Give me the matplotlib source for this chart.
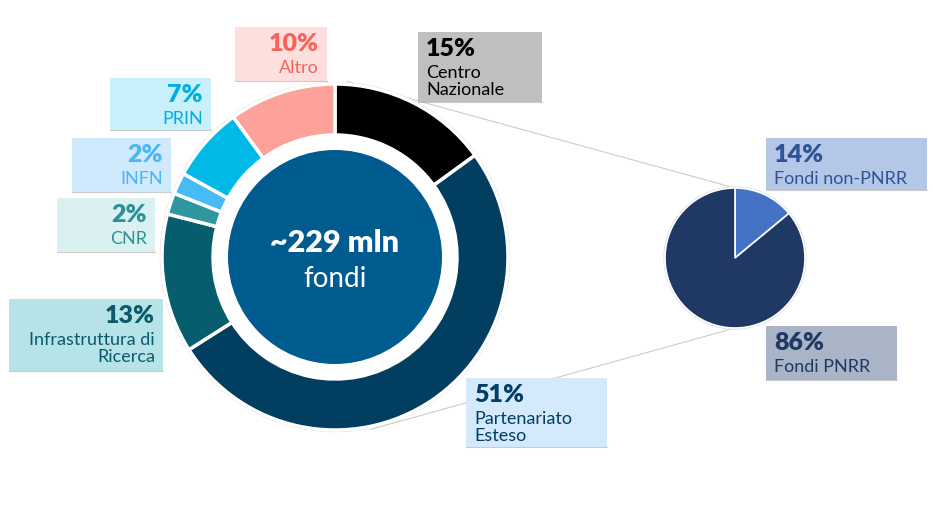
import matplotlib

matplotlib.use("Agg")

import numpy as np
import matplotlib.pyplot as plt
from matplotlib.patches import Circle, Rectangle

plt.rcParams["font.family"] = ["Lato", "DejaVu Sans"]

# donut: share of funds by instrument (clockwise from 12 o'clock)
categories = ["Centro\nNazionale", "Partenariato\nEsteso", "Infrastruttura di\nRicerca",
              "CNR", "INFN", "PRIN", "Altro"]
shares = [15, 51, 13, 2, 2, 7, 10]
ring_colors = ["#000000", "#023e5f", "#055d6e", "#2e97a0", "#48bbf7", "#00b9e6", "#fca29b"]
text_colors = ["#000000", "#003e63", "#0b5a6b", "#2a9198", "#4bb6f3", "#00aee0", "#f7625c"]
box_colors = ["#bfbfbf", "#d4eafc", "#b5e3e8", "#dbf1f1", "#cfe9fd", "#c8f0fb", "#fddfde"]

# small pie: PNRR split
pnrr_labels = ["Fondi non-PNRR", "Fondi PNRR"]
pnrr_shares = [14, 86]
pnrr_colors = ["#4472c4", "#203864"]
pnrr_text = ["#2f5496", "#1f3864"]
pnrr_box = ["#b4c7e7", "#a9b4c6"]

center_value = "~229 mln"
center_label = "fondi"

W, H = 933, 511


def Y(y):
    return H - y


# label boxes in pixel coords: x0, y0, x1, y1, align
donut_boxes = [
    (418, 32, 542, 102, "left"),
    (466, 378, 607, 447, "left"),
    (9, 299, 163, 371, "right"),
    (57, 198, 155, 252, "right"),
    (72, 138, 171, 192, "right"),
    (110, 78, 211, 130, "right"),
    (235, 27, 327, 81, "right"),
]
pnrr_boxes = [
    (766, 138, 927, 190, "left"),
    (766, 326, 897, 380, "left"),
]

cx, cy, R_out, R_in, R_core = 335, 257, 173, 122, 107
px, py, R_pie = 735, 258, 70


def on_ring(angle_deg, r):
    # angle clockwise from 12 o'clock, pixel coords
    a = np.radians(angle_deg)
    return cx + r * np.sin(a), cy - r * np.cos(a)


fig = plt.figure(figsize=(W / 100, H / 100), dpi=100, facecolor="white")
ax = fig.add_axes([0, 0, 1, 1])

# connector lines donut -> pie
x_top, y_top = on_ring(4, R_out + 3)
x_bot, y_bot = on_ring(168, R_out + 3)
ax.plot([x_top, px], [Y(y_top), Y(py - R_pie)], color="#cccccc", lw=0.8, zorder=0)
ax.plot([x_bot, px], [Y(y_bot), Y(py + R_pie)], color="#cccccc", lw=0.8, zorder=0)

ax.add_patch(Circle((cx, Y(cy)), R_out + 1.5, facecolor="none", edgecolor="#e2e2e2", lw=1.0, zorder=1))
ax.pie(
    shares,
    colors=ring_colors,
    startangle=90,
    counterclock=False,
    radius=R_out,
    center=(cx, Y(cy)),
    wedgeprops=dict(width=R_out - R_in, edgecolor="white", linewidth=2.5),
)
ax.add_patch(Circle((cx, Y(cy)), R_core, facecolor="#005b8e", edgecolor="none", zorder=3))
ax.text(cx, Y(252), center_value, color="white", fontsize=22, fontweight="heavy",
        ha="center", va="baseline", zorder=4)
ax.text(cx, Y(287), center_label, color="white", fontsize=20,
        ha="center", va="baseline", zorder=4)

ax.add_patch(Circle((px, Y(py)), R_pie + 1, facecolor="none", edgecolor="#e2e2e2", lw=1.0, zorder=1))
ax.pie(
    pnrr_shares,
    colors=pnrr_colors,
    startangle=90,
    counterclock=False,
    radius=R_pie,
    center=(px, Y(py)),
    wedgeprops=dict(edgecolor="white", linewidth=1.2),
)


def label_box(box, pct, name, tcolor, bcolor):
    x0, y0, x1, y1, align = box
    ax.add_patch(Rectangle((x0, Y(y1)), x1 - x0, y1 - y0, facecolor=bcolor,
                           edgecolor="none", zorder=5))
    ax.plot([x0, x1], [Y(y1), Y(y1)], color="#9a9a9a", lw=0.8, alpha=0.5, zorder=5)
    tx = x0 + 8 if align == "left" else x1 - 8
    ax.text(tx, Y(y0 + 24), f"{pct}%", color=tcolor, fontsize=18, fontweight="heavy",
            ha=align, va="baseline", zorder=6)
    for i, line in enumerate(name.split("\n")):
        ax.text(tx, Y(y0 + 46 + 17 * i), line, color=tcolor, fontsize=13,
                ha=align, va="baseline", zorder=6)


for box, pct, name, tc, bc in zip(donut_boxes, shares, categories, text_colors, box_colors):
    label_box(box, pct, name, tc, bc)
for box, pct, name, tc, bc in zip(pnrr_boxes, pnrr_shares, pnrr_labels, pnrr_text, pnrr_box):
    label_box(box, pct, name, tc, bc)

ax.set_xlim(0, W)
ax.set_ylim(0, H)
ax.set_aspect("equal")
ax.axis("off")

fig.savefig("out.png", dpi=100, facecolor="white")
plt.close(fig)
